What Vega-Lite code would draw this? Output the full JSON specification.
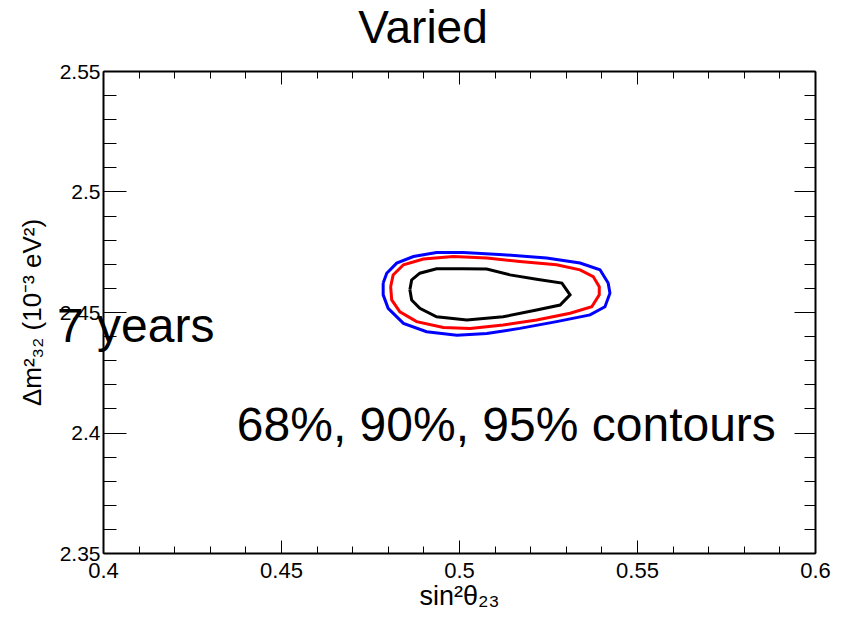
{
  "$schema": "https://vega.github.io/schema/vega-lite/v6.json",
  "width": 712,
  "height": 482,
  "autosize": {"type": "none"},
  "padding": {"left": 103, "top": 71, "right": 27, "bottom": 64},
  "background": "white",
  "config": {
    "font": "Liberation Sans",
    "view": {"stroke": null},
    "axis": {"grid": false, "domainColor": "black", "domainWidth": 2, "tickColor": "black", "tickWidth": 1, "labelColor": "black", "titleColor": "black", "labelFont": "Liberation Sans", "titleFont": "Liberation Sans", "titleFontWeight": "normal", "labelFlush": false, "labelOverlap": false, "labelBound": false}
  },
  "title": {"text": "Varied", "fontSize": 46, "fontWeight": "normal", "font": "Liberation Sans", "color": "black", "anchor": "middle", "frame": "group", "dx": -36, "dy": 56, "baseline": "bottom", "offset": 18},
  "datasets": {
    "contours": [
      {"level": "95%", "i": 0, "x": 0.4787, "y": 2.4620},
      {"level": "95%", "i": 1, "x": 0.4797, "y": 2.4661},
      {"level": "95%", "i": 2, "x": 0.4825, "y": 2.4703},
      {"level": "95%", "i": 3, "x": 0.4872, "y": 2.4730},
      {"level": "95%", "i": 4, "x": 0.4937, "y": 2.4747},
      {"level": "95%", "i": 5, "x": 0.5012, "y": 2.4747},
      {"level": "95%", "i": 6, "x": 0.5124, "y": 2.4738},
      {"level": "95%", "i": 7, "x": 0.5246, "y": 2.4724},
      {"level": "95%", "i": 8, "x": 0.5340, "y": 2.4703},
      {"level": "95%", "i": 9, "x": 0.5396, "y": 2.4675},
      {"level": "95%", "i": 10, "x": 0.5419, "y": 2.4620},
      {"level": "95%", "i": 11, "x": 0.5424, "y": 2.4578},
      {"level": "95%", "i": 12, "x": 0.5410, "y": 2.4522},
      {"level": "95%", "i": 13, "x": 0.5368, "y": 2.4488},
      {"level": "95%", "i": 14, "x": 0.5274, "y": 2.4460},
      {"level": "95%", "i": 15, "x": 0.5171, "y": 2.4432},
      {"level": "95%", "i": 16, "x": 0.5078, "y": 2.4411},
      {"level": "95%", "i": 17, "x": 0.4994, "y": 2.4404},
      {"level": "95%", "i": 18, "x": 0.4909, "y": 2.4418},
      {"level": "95%", "i": 19, "x": 0.4844, "y": 2.4453},
      {"level": "95%", "i": 20, "x": 0.4801, "y": 2.4515},
      {"level": "95%", "i": 21, "x": 0.4787, "y": 2.4571},
      {"level": "95%", "i": 22, "x": 0.4787, "y": 2.4620},
      {"level": "90%", "i": 0, "x": 0.4808, "y": 2.4605},
      {"level": "90%", "i": 1, "x": 0.4815, "y": 2.4654},
      {"level": "90%", "i": 2, "x": 0.4844, "y": 2.4696},
      {"level": "90%", "i": 3, "x": 0.4900, "y": 2.4720},
      {"level": "90%", "i": 4, "x": 0.4984, "y": 2.4730},
      {"level": "90%", "i": 5, "x": 0.5078, "y": 2.4724},
      {"level": "90%", "i": 6, "x": 0.5171, "y": 2.4710},
      {"level": "90%", "i": 7, "x": 0.5274, "y": 2.4696},
      {"level": "90%", "i": 8, "x": 0.5340, "y": 2.4675},
      {"level": "90%", "i": 9, "x": 0.5377, "y": 2.4647},
      {"level": "90%", "i": 10, "x": 0.5394, "y": 2.4605},
      {"level": "90%", "i": 11, "x": 0.5394, "y": 2.4571},
      {"level": "90%", "i": 12, "x": 0.5373, "y": 2.4522},
      {"level": "90%", "i": 13, "x": 0.5312, "y": 2.4495},
      {"level": "90%", "i": 14, "x": 0.5218, "y": 2.4467},
      {"level": "90%", "i": 15, "x": 0.5124, "y": 2.4446},
      {"level": "90%", "i": 16, "x": 0.5031, "y": 2.4432},
      {"level": "90%", "i": 17, "x": 0.4956, "y": 2.4436},
      {"level": "90%", "i": 18, "x": 0.4881, "y": 2.4460},
      {"level": "90%", "i": 19, "x": 0.4834, "y": 2.4501},
      {"level": "90%", "i": 20, "x": 0.4811, "y": 2.4550},
      {"level": "90%", "i": 21, "x": 0.4808, "y": 2.4605},
      {"level": "68%", "i": 0, "x": 0.4862, "y": 2.4592},
      {"level": "68%", "i": 1, "x": 0.4867, "y": 2.4633},
      {"level": "68%", "i": 2, "x": 0.4890, "y": 2.4661},
      {"level": "68%", "i": 3, "x": 0.4937, "y": 2.4679},
      {"level": "68%", "i": 4, "x": 0.5012, "y": 2.4679},
      {"level": "68%", "i": 5, "x": 0.5078, "y": 2.4678},
      {"level": "68%", "i": 6, "x": 0.5143, "y": 2.4654},
      {"level": "68%", "i": 7, "x": 0.5218, "y": 2.4636},
      {"level": "68%", "i": 8, "x": 0.5289, "y": 2.4620},
      {"level": "68%", "i": 9, "x": 0.5312, "y": 2.4571},
      {"level": "68%", "i": 10, "x": 0.5284, "y": 2.4529},
      {"level": "68%", "i": 11, "x": 0.5218, "y": 2.4508},
      {"level": "68%", "i": 12, "x": 0.5124, "y": 2.4480},
      {"level": "68%", "i": 13, "x": 0.5022, "y": 2.4467},
      {"level": "68%", "i": 14, "x": 0.4937, "y": 2.4480},
      {"level": "68%", "i": 15, "x": 0.4890, "y": 2.4515},
      {"level": "68%", "i": 16, "x": 0.4867, "y": 2.4550},
      {"level": "68%", "i": 17, "x": 0.4862, "y": 2.4592}
    ],
    "labels": [
      {"label": "7 years", "x": 0.3871, "y": 2.4376},
      {"label": "68%, 90%, 95% contours", "x": 0.4376, "y": 2.3965}
    ]
  },
  "resolve": {"axis": {"x": "independent", "y": "independent"}},
  "layer": [
    {
      "data": {"name": "contours"},
      "mark": {"type": "line", "strokeWidth": 3, "interpolate": "linear"},
      "encoding": {
        "x": {"field": "x", "type": "quantitative", "scale": {"domain": [0.4, 0.6], "nice": false, "zero": false},
          "axis": {"orient": "bottom", "title": "sin²θ₂₃", "titleFontSize": 27, "titlePadding": -4, "labelFontSize": 22, "labelPadding": 20,
            "values": [0.4,0.41,0.42,0.43,0.44,0.45,0.46,0.47,0.48,0.49,0.5,0.51,0.52,0.53,0.54,0.55,0.56,0.57,0.58,0.59,0.6],
            "tickSize": {"condition": {"test": "abs(datum.value*20 - round(datum.value*20)) < 0.001", "value": -13}, "value": -7},
            "labelExpr": "abs(datum.value*20 - round(datum.value*20)) < 0.001 ? format(datum.value, '~g') : ''"}},
        "y": {"field": "y", "type": "quantitative", "scale": {"domain": [2.35, 2.55], "nice": false, "zero": false},
          "axis": {"orient": "left", "title": "Δm²₃₂ (10⁻³ eV²)", "titleFontSize": 26, "titlePadding": 14, "labelFontSize": 21, "labelPadding": 26, "labelBaseline": "middle", "labelOffset": 1,
            "values": [2.35,2.36,2.37,2.38,2.39,2.4,2.41,2.42,2.43,2.44,2.45,2.46,2.47,2.48,2.49,2.5,2.51,2.52,2.53,2.54,2.55],
            "tickSize": {"condition": {"test": "abs(datum.value*20 - round(datum.value*20)) < 0.001", "value": -23}, "value": -13},
            "labelExpr": "abs(datum.value*20 - round(datum.value*20)) < 0.001 ? format(datum.value, '~g') : ''"}},
        "color": {"field": "level", "type": "nominal", "scale": {"domain": ["68%", "90%", "95%"], "range": ["#000000", "#ff0000", "#0000ff"]}, "legend": null},
        "order": {"field": "i", "type": "quantitative"}
      }
    },
    {
      "data": {"name": "labels"},
      "mark": {"type": "text", "align": "left", "baseline": "alphabetic", "fontSize": 48, "font": "Liberation Sans", "color": "black"},
      "encoding": {
        "x": {"field": "x", "type": "quantitative", "scale": {"domain": [0.4, 0.6], "nice": false, "zero": false},
          "axis": {"orient": "top", "title": null, "labels": false,
            "values": [0.4,0.41,0.42,0.43,0.44,0.45,0.46,0.47,0.48,0.49,0.5,0.51,0.52,0.53,0.54,0.55,0.56,0.57,0.58,0.59,0.6],
            "tickSize": {"condition": {"test": "abs(datum.value*20 - round(datum.value*20)) < 0.001", "value": -13}, "value": -7}}},
        "y": {"field": "y", "type": "quantitative", "scale": {"domain": [2.35, 2.55], "nice": false, "zero": false},
          "axis": {"orient": "right", "title": null, "labels": false,
            "values": [2.35,2.36,2.37,2.38,2.39,2.4,2.41,2.42,2.43,2.44,2.45,2.46,2.47,2.48,2.49,2.5,2.51,2.52,2.53,2.54,2.55],
            "tickSize": {"condition": {"test": "abs(datum.value*20 - round(datum.value*20)) < 0.001", "value": -21}, "value": -11}}},
        "text": {"field": "label", "type": "nominal"}
      }
    }
  ]
}
